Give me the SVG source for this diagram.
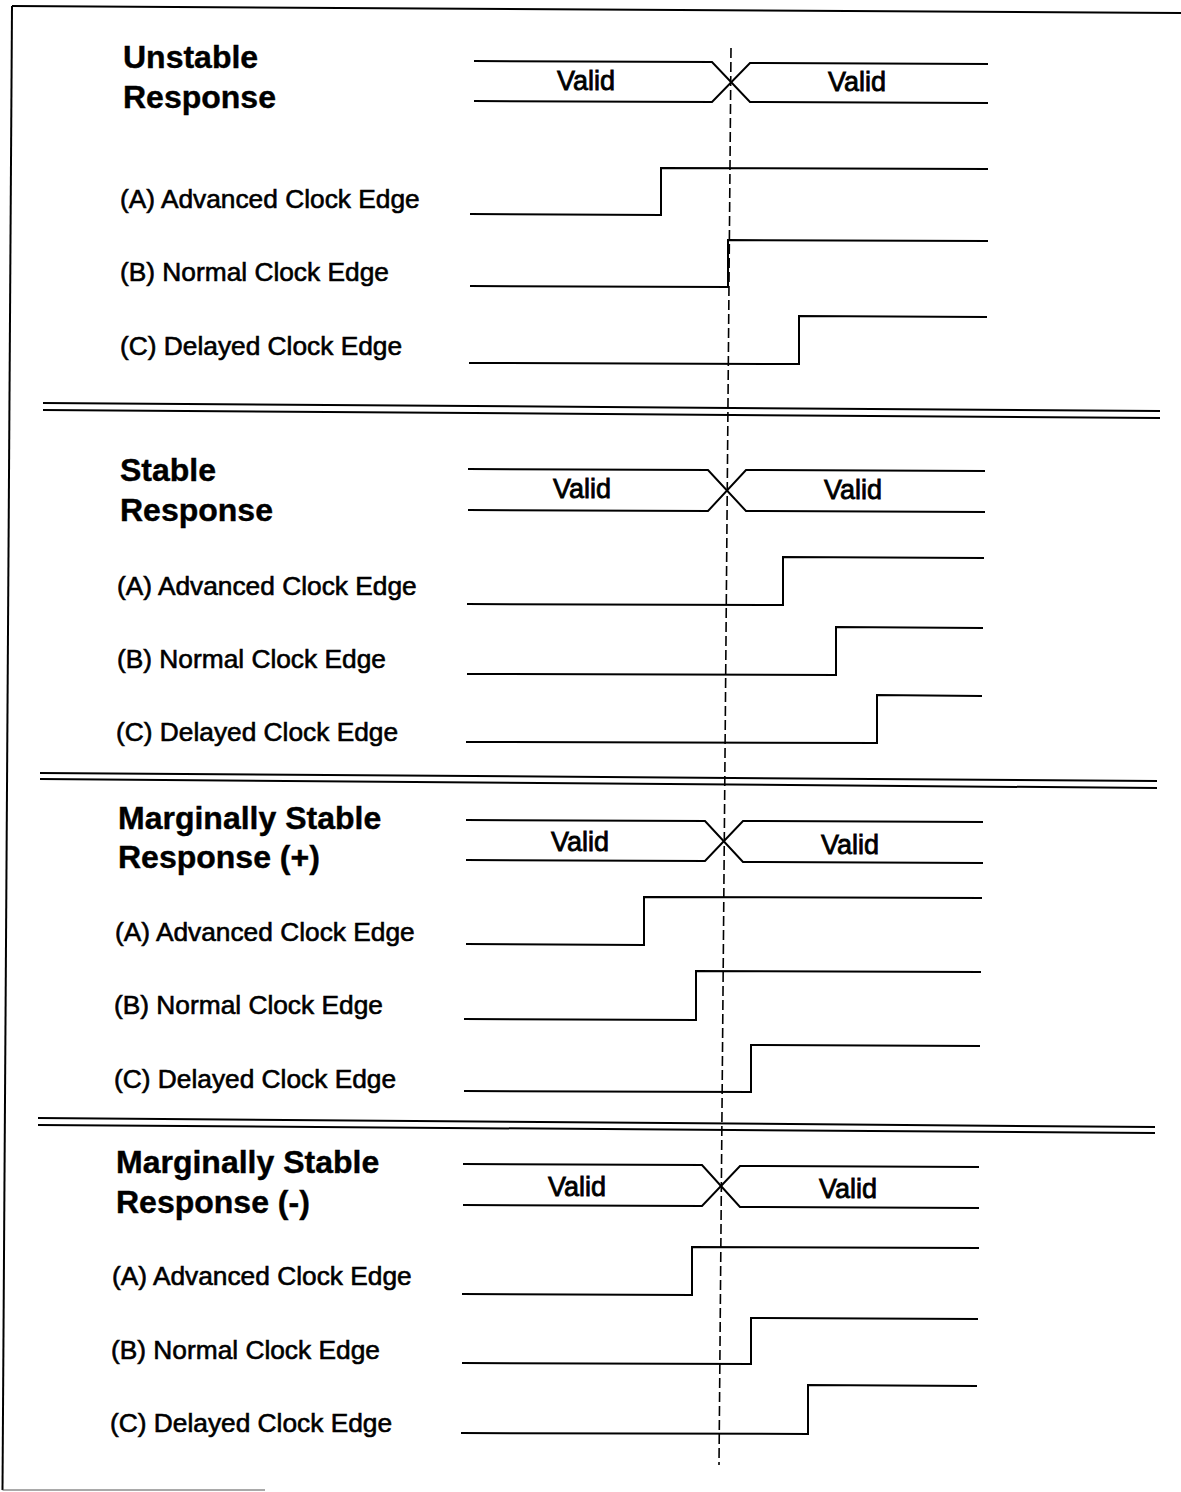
<svg xmlns="http://www.w3.org/2000/svg" width="1181" height="1492" viewBox="0 0 1181 1492">
<style>
.title{font-family:"Liberation Sans",Arial,sans-serif;font-weight:bold;font-size:32px;fill:#000;stroke:#000;stroke-width:0.4}
.lbl{font-family:"Liberation Sans",Arial,sans-serif;font-size:26.3px;fill:#000;stroke:#000;stroke-width:0.6}
.val{font-family:"Liberation Sans",Arial,sans-serif;font-size:27px;fill:#000;stroke:#000;stroke-width:0.8;text-anchor:middle}
.w{fill:none;stroke:#000;stroke-width:2}
.sep{fill:none;stroke:#000;stroke-width:2}
.dash{fill:none;stroke:#000;stroke-width:1.6;stroke-dasharray:10 4}
</style>
<rect width="1181" height="1492" fill="#fff"/>
<g id="border">
<path class="sep" d="M12 6 L1181 13"/>
<path class="sep" d="M12 6 L2.5 1490"/>
<path d="M2.5 1490 L265 1490" fill="none" stroke="#555" stroke-width="1.2"/>
</g>

<g id="section-unstable">
<text class="title" x="123" y="68">Unstable</text>
<text class="title" x="123" y="108">Response</text>
<text class="lbl" x="120" y="208">(A) Advanced Clock Edge</text>
<text class="lbl" x="120" y="281">(B) Normal Clock Edge</text>
<text class="lbl" x="120" y="355">(C) Delayed Clock Edge</text>
<g id="bus1">
<path class="w" d="M474 61 L712 62 L750 102 L988 103"/>
<path class="w" d="M474 101 L712 102 L750 63 L988 64"/>
<text class="val" x="586" y="90">Valid</text>
<text class="val" x="857" y="91">Valid</text>
</g>
<path id="sig1a" class="w" d="M470 214 L661 215 L661 168 L988 169"/>
<path id="sig1b" class="w" d="M470 286 L728 287 L728 240 L988 241"/>
<path id="sig1c" class="w" d="M469 363 L799 364 L799 316 L987 317"/>
</g>

<g id="separators">
<path class="sep" d="M43 403 L1160 411"/>
<path class="sep" d="M43 410 L1160 418"/>
<path class="sep" d="M40 773 L1157 781"/>
<path class="sep" d="M40 779 L1157 788"/>
<path class="sep" d="M38 1118 L1155 1127"/>
<path class="sep" d="M38 1125 L1155 1133"/>
</g>

<g id="section-stable">
<text class="title" x="120" y="481">Stable</text>
<text class="title" x="120" y="521">Response</text>
<text class="lbl" x="117" y="595">(A) Advanced Clock Edge</text>
<text class="lbl" x="117" y="668">(B) Normal Clock Edge</text>
<text class="lbl" x="116" y="741">(C) Delayed Clock Edge</text>
<g id="bus2">
<path class="w" d="M468 469 L708 470 L746 511 L985 512"/>
<path class="w" d="M468 510 L708 511 L746 470 L985 471"/>
<text class="val" x="582" y="498">Valid</text>
<text class="val" x="853" y="499">Valid</text>
</g>
<path id="sig2a" class="w" d="M467 604 L783 605 L783 557 L984 558"/>
<path id="sig2b" class="w" d="M467 674 L836 675 L836 627 L983 628"/>
<path id="sig2c" class="w" d="M466 742 L877 743 L877 695 L982 696"/>
</g>

<g id="section-marginal-plus">
<text class="title" x="118" y="829">Marginally Stable</text>
<text class="title" x="118" y="868">Response (+)</text>
<text class="lbl" x="115" y="941">(A) Advanced Clock Edge</text>
<text class="lbl" x="114" y="1014">(B) Normal Clock Edge</text>
<text class="lbl" x="114" y="1088">(C) Delayed Clock Edge</text>
<g id="bus3">
<path class="w" d="M466 820 L705 821 L743 862 L983 863"/>
<path class="w" d="M466 860 L705 861 L743 821 L983 822"/>
<text class="val" x="580" y="851">Valid</text>
<text class="val" x="850" y="854">Valid</text>
</g>
<path id="sig3a" class="w" d="M466 944 L644 945 L644 897 L982 898"/>
<path id="sig3b" class="w" d="M464 1019 L696 1020 L696 971 L981 972"/>
<path id="sig3c" class="w" d="M464 1091 L751 1092 L751 1045 L980 1046"/>
</g>

<g id="section-marginal-minus">
<text class="title" x="116" y="1173">Marginally Stable</text>
<text class="title" x="116" y="1213">Response (-)</text>
<text class="lbl" x="112" y="1285">(A) Advanced Clock Edge</text>
<text class="lbl" x="111" y="1359">(B) Normal Clock Edge</text>
<text class="lbl" x="110" y="1432">(C) Delayed Clock Edge</text>
<g id="bus4">
<path class="w" d="M463 1164 L702 1165 L740 1207 L979 1208"/>
<path class="w" d="M463 1205 L702 1206 L740 1166 L979 1167"/>
<text class="val" x="577" y="1196">Valid</text>
<text class="val" x="848" y="1198">Valid</text>
</g>
<path id="sig4a" class="w" d="M462 1294 L692 1295 L692 1247 L979 1248"/>
<path id="sig4b" class="w" d="M462 1363 L751 1364 L751 1318 L978 1319"/>
<path id="sig4c" class="w" d="M461 1433 L808 1434 L808 1385 L977 1386"/>
</g>

<g id="connectors">
<path class="dash" d="M731 48 L719 1465"/>
</g>
</svg>
